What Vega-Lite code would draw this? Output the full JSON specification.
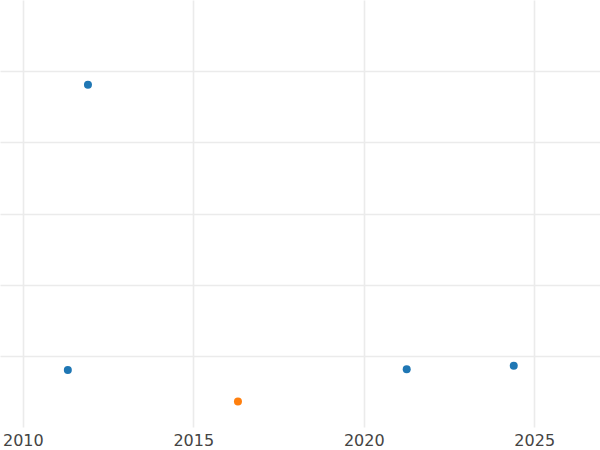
{
  "$schema": "https://vega.github.io/schema/vega-lite/v6.json",
  "autosize": {"type": "none"},
  "padding": {"left": 0, "top": 0, "right": 0, "bottom": 23},
  "width": 600,
  "height": 427,
  "background": "white",
  "config": {"view": {"stroke": null}},
  "data": {"values": [
    {"year": 2011.91, "value": 4.81, "series": "A"},
    {"year": 2011.32, "value": 0.80, "series": "A"},
    {"year": 2016.31, "value": 0.36, "series": "B"},
    {"year": 2021.26, "value": 0.81, "series": "A"},
    {"year": 2024.40, "value": 0.86, "series": "A"}
  ]},
  "mark": {"type": "point", "filled": true, "opacity": 1, "size": 64},
  "encoding": {
    "x": {"field": "year", "type": "quantitative",
      "scale": {"domain": [2009.33, 2026.93], "nice": false, "zero": false},
      "axis": {"title": null, "values": [2010, 2015, 2020, 2025], "format": "d",
        "domain": false, "ticks": false, "labelFontSize": 16, "labelFont": "DejaVu Sans",
        "labelColor": "#444444", "labelPadding": 5, "gridColor": "#ebebeb", "gridWidth": 1.6, "labelFlush": false}},
    "y": {"field": "value", "type": "quantitative",
      "scale": {"domain": [0, 6], "nice": false},
      "axis": {"title": null, "values": [1, 2, 3, 4, 5], "labels": false, "domain": false, "ticks": false,
        "gridColor": "#ebebeb", "gridWidth": 1.6}},
    "color": {"field": "series", "type": "nominal",
      "scale": {"domain": ["A", "B"], "range": ["#1f77b4", "#ff7f0e"]}, "legend": null}
  }
}
